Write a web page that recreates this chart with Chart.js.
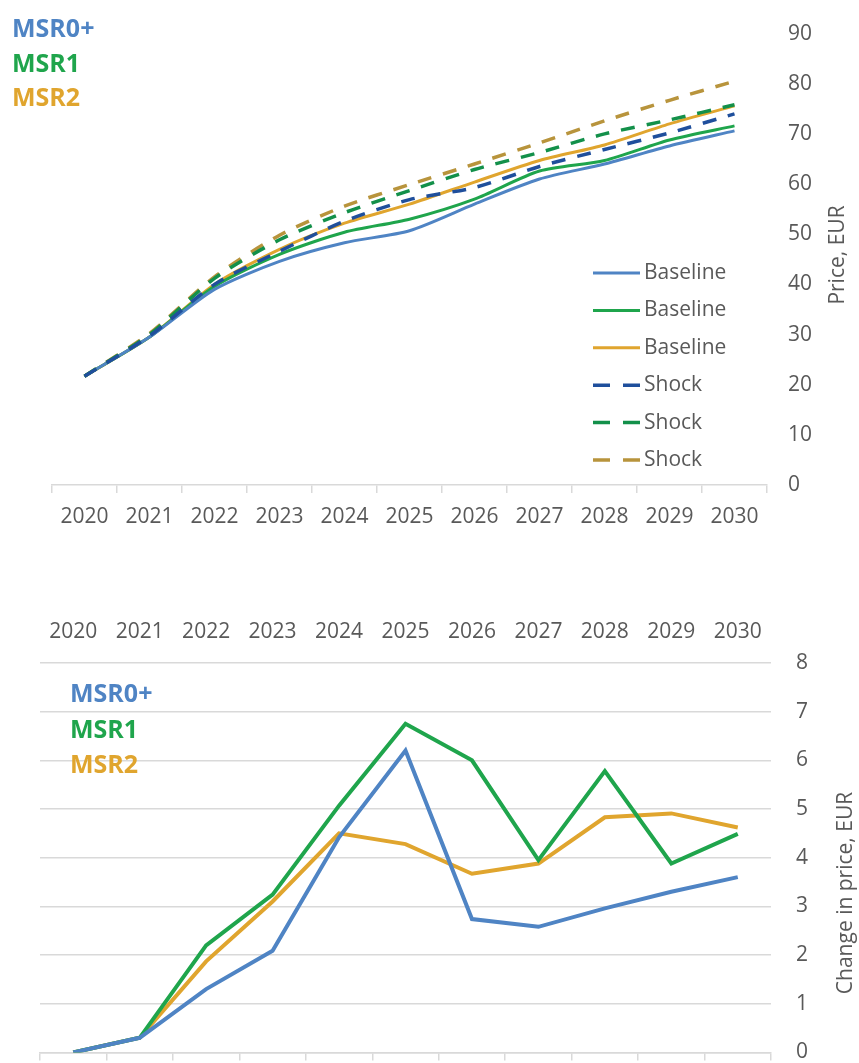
<!DOCTYPE html>
<html>
<head>
<meta charset="utf-8">
<script src="https://cdn.jsdelivr.net/npm/chart.js@4.4.0/dist/chart.umd.min.js"></script>
<style>
    html, body { margin: 0; padding: 0; background: #fff; overflow: hidden; }
    .panel { position: absolute; left: 0; width: 859px; }
    #pricePanel { top: 0; height: 545px; }
    #changePanel { top: 600px; height: 490px; }
</style>
</head>
<body>
<div class="panel" id="pricePanel"><canvas id="priceChart"></canvas></div>
<div class="panel" id="changePanel"><canvas id="changeChart"></canvas></div>
<script>
const years = ['2020', '2021', '2022', '2023', '2024', '2025', '2026', '2027', '2028', '2029', '2030'];
const scenarios = ['MSR0+', 'MSR1', 'MSR2'];

// price, EUR
const baselineMsr0 = [21.7, 29.5, 39.0, 44.6, 48.3, 50.7, 56.0, 61.0, 64.0, 67.6, 70.6];
const baselineMsr1 = [21.7, 29.5, 39.6, 46.0, 50.4, 53.0, 57.0, 62.6, 64.7, 68.8, 71.6];
const baselineMsr2 = [21.7, 29.5, 40.0, 47.0, 52.2, 56.0, 60.4, 64.7, 67.8, 72.0, 75.6];
const shockMsr0 = [21.7, 29.7, 40.0, 46.6, 52.6, 56.9, 59.3, 63.5, 66.9, 70.2, 74.0];
const shockMsr1 = [21.7, 30.0, 41.2, 48.9, 54.3, 58.7, 62.9, 66.3, 70.0, 72.8, 75.8];
const shockMsr2 = [21.7, 30.2, 41.5, 49.8, 55.6, 59.9, 64.0, 68.2, 72.6, 76.7, 80.5];

// change in price, EUR
const changeMsr0 = [0, 0.3, 1.3, 2.09, 4.42, 6.2, 2.74, 2.58, 2.96, 3.3, 3.6];
const changeMsr1 = [0, 0.3, 2.2, 3.24, 5.07, 6.75, 6.0, 3.95, 5.78, 3.88, 4.49];
const changeMsr2 = [0, 0.3, 1.87, 3.1, 4.5, 4.28, 3.67, 3.88, 4.83, 4.91, 4.62];

const scenarioColors = ['#4f84c4', '#1fa54c', '#e0a52e'];
const shockColors = ['#1f4f9c', '#13904a', '#b8943c'];
const textGrey = '#595959';
const gridGrey = '#d9d9d9';
const font = '"Open Sans", sans-serif';

// coloured MSR names in the top-left corner
const scenarioLabels = {
    id: 'scenarioLabels',
    afterDraw(chart, args, opts) {
        const ctx = chart.ctx;
        ctx.save();
        ctx.font = 'bold 25px ' + font;
        ctx.textBaseline = 'alphabetic';
        scenarios.forEach((name, i) => {
            ctx.fillStyle = scenarioColors[i];
            ctx.fillText(name, opts.x, opts.y + i * opts.step);
        });
        ctx.restore();
    }
};

// legend drawn inside the plot, one row per dataset
const sideLegend = {
    id: 'sideLegend',
    afterDraw(chart, args, opts) {
        if (!opts.show) return;
        const ctx = chart.ctx;
        ctx.save();
        ctx.font = '21px ' + font;
        ctx.textBaseline = 'middle';
        chart.data.datasets.forEach((ds, i) => {
            const y = opts.y + i * opts.step;
            ctx.strokeStyle = ds.borderColor;
            ctx.lineWidth = ds.borderWidth;
            ctx.setLineDash(ds.borderDash ? [17, 13] : []);
            ctx.beginPath();
            ctx.moveTo(opts.x, y);
            ctx.lineTo(opts.x + 47, y);
            ctx.stroke();
            ctx.setLineDash([]);
            ctx.fillStyle = textGrey;
            ctx.fillText(ds.label, opts.x + 51, y);
        });
        ctx.restore();
    }
};

// rotated axis title, reading bottom to top
const sideTitle = {
    id: 'sideTitle',
    afterDraw(chart, args, opts) {
        const ctx = chart.ctx;
        ctx.save();
        ctx.translate(opts.x, opts.y);
        ctx.rotate(-Math.PI / 2);
        ctx.font = '21px ' + font;
        ctx.fillStyle = textGrey;
        ctx.textAlign = 'center';
        ctx.textBaseline = 'middle';
        ctx.fillText(opts.text, 0, 0);
        ctx.restore();
    }
};

function solid(label, data, color) {
    return { label: label, data: data, borderColor: color, borderWidth: 3, pointRadius: 0, tension: 0.25, order: 1 };
}

function dashed(label, data, color) {
    return { label: label, data: data, borderColor: color, borderWidth: 3.5, borderDash: [14, 12], pointRadius: 0, tension: 0.25, order: 0 };
}

new Chart(document.getElementById('priceChart'), {
    type: 'line',
    data: {
        labels: years,
        datasets: [
            solid('Baseline', baselineMsr0, scenarioColors[0]),
            solid('Baseline', baselineMsr1, scenarioColors[1]),
            solid('Baseline', baselineMsr2, scenarioColors[2]),
            dashed('Shock', shockMsr0, shockColors[0]),
            dashed('Shock', shockMsr1, shockColors[1]),
            dashed('Shock', shockMsr2, shockColors[2])
        ]
    },
    options: {
        responsive: true,
        maintainAspectRatio: false,
        animation: false,
        layout: { padding: { top: 29, left: 52, right: 0, bottom: 0 } },
        plugins: {
            legend: { display: false },
            tooltip: { enabled: false },
            scenarioLabels: { x: 12, y: 37, step: 34.5 },
            sideLegend: { show: true, x: 593, y: 273, step: 37.4 },
            sideTitle: { text: 'Price, EUR', x: 838, y: 255 }
        },
        scales: {
            x: {
                offset: true,
                grid: { display: true, drawOnChartArea: false, drawTicks: true, tickLength: 8, offset: true, color: gridGrey, lineWidth: 1.5 },
                border: { display: true, color: gridGrey, width: 1.5 },
                ticks: { color: textGrey, font: { family: font, size: 21 }, padding: 11, maxRotation: 0 },
                afterFit: (scale) => { scale.height = 60; }
            },
            y: {
                position: 'right',
                min: 0,
                max: 90,
                grid: { display: false, drawTicks: false },
                border: { display: false },
                ticks: { stepSize: 10, color: textGrey, font: { family: font, size: 21 }, padding: 21 },
                afterFit: (scale) => { scale.width = 92; }
            }
        }
    },
    plugins: [scenarioLabels, sideLegend, sideTitle]
});

new Chart(document.getElementById('changeChart'), {
    type: 'line',
    data: {
        labels: years,
        datasets: [
            { label: scenarios[0], data: changeMsr0, borderColor: scenarioColors[0], borderWidth: 4, pointRadius: 0, xAxisID: 'x' },
            { label: scenarios[1], data: changeMsr1, borderColor: scenarioColors[1], borderWidth: 4, pointRadius: 0, xAxisID: 'x' },
            { label: scenarios[2], data: changeMsr2, borderColor: scenarioColors[2], borderWidth: 4, pointRadius: 0, xAxisID: 'x' }
        ]
    },
    options: {
        responsive: true,
        maintainAspectRatio: false,
        animation: false,
        layout: { padding: { top: 0, left: 40, right: 0, bottom: 0 } },
        plugins: {
            legend: { display: false },
            tooltip: { enabled: false },
            scenarioLabels: { x: 70, y: 102, step: 35.5 },
            sideLegend: { show: false },
            sideTitle: { text: 'Change in price, EUR', x: 846, y: 293 }
        },
        scales: {
            x: {
                position: 'top',
                offset: true,
                grid: { display: false, drawTicks: false },
                border: { display: false },
                ticks: { color: textGrey, font: { family: font, size: 21 }, padding: 18, maxRotation: 0 },
                afterFit: (scale) => { scale.height = 63; }
            },
            x2: {
                position: 'bottom',
                type: 'category',
                labels: years,
                offset: true,
                grid: { display: true, drawOnChartArea: false, drawTicks: true, tickLength: 8, offset: true, color: gridGrey, lineWidth: 1.5 },
                border: { display: true, color: gridGrey, width: 1.5 },
                ticks: { display: false },
                afterFit: (scale) => { scale.height = 32; }
            },
            y: {
                position: 'right',
                min: 0,
                max: 8,
                grid: { color: gridGrey, lineWidth: 1.5, drawTicks: false },
                border: { display: false },
                ticks: { stepSize: 1, color: textGrey, font: { family: font, size: 21 }, padding: 25 },
                afterFit: (scale) => { scale.width = 88; }
            }
        }
    },
    plugins: [scenarioLabels, sideLegend, sideTitle]
});
</script>
</body>
</html>
